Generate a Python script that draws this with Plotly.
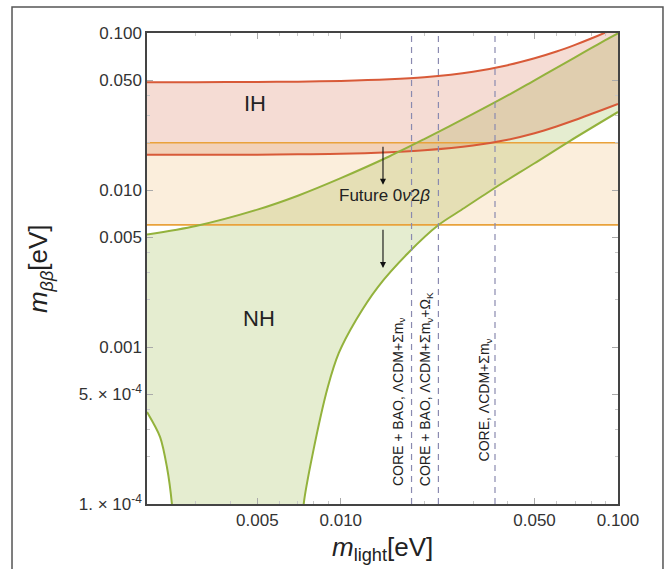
import math
import plotly.graph_objects as go

# ---------------- data ----------------
m_light = [0.002, 0.003, 0.005, 0.007, 0.01, 0.015, 0.02, 0.03, 0.04, 0.05,
           0.06, 0.07, 0.08, 0.09, 0.1]
ih_upper = [0.0486, 0.0486, 0.0488, 0.0490, 0.0495, 0.0507, 0.0523, 0.0567,
            0.0624, 0.069, 0.0762, 0.084, 0.0922, 0.1007, 0.1096]
ih_lower = [0.0168, 0.0168, 0.0168, 0.0169, 0.0170, 0.0174, 0.0179, 0.0192,
            0.0209, 0.0230, 0.0254, 0.0279, 0.0305, 0.0329, 0.0353]
nh_upper = [0.0052, 0.0059, 0.0075, 0.0092, 0.0119, 0.0164, 0.0211, 0.0305,
            0.040, 0.050, 0.060, 0.070, 0.080, 0.090, 0.0995]

nh_lower_right_m = [0.00722, 0.00735, 0.00793, 0.00898, 0.00984, 0.01135,
                    0.01361, 0.0175, 0.0225, 0.0272, 0.0359, 0.05, 0.067, 0.1]
nh_lower_right_v = [0.00005, 0.0001, 0.000211, 0.000556, 0.000916, 0.001486,
                    0.00241, 0.00397, 0.00598, 0.00746, 0.0103, 0.0148, 0.0205,
                    0.0314]
nh_lower_left_m = [0.002, 0.00223, 0.00236, 0.00246, 0.00252]
nh_lower_left_v = [0.000385, 0.000267, 0.000172, 0.0001, 0.00005]

future_band = [0.006, 0.02]          # future 0v2b sensitivity band
cosmo_limits = [0.018, 0.0225, 0.036]  # vertical dashed lines
cosmo_labels = ["CORE + BAO, ΛCDM+Σm<sub>ν</sub>",
                "CORE + BAO, ΛCDM+Σm<sub>ν</sub>+Ω<sub>K</sub>",
                "CORE, ΛCDM+Σm<sub>ν</sub>"]
cosmo_label_bottom = [0.000126, 0.000126, 0.000182]

x_range = [0.002, 0.1]
y_range = [0.0001, 0.1]
x_ticks = [0.005, 0.01, 0.05, 0.1]
x_ticktext = ["0.005", "0.010", "0.050", "0.100"]
x_minor = [0.003, 0.004, 0.006, 0.007, 0.008, 0.009, 0.02, 0.03, 0.04,
           0.06, 0.07, 0.08, 0.09]
y_ticks = [0.0001, 0.0005, 0.001, 0.005, 0.01, 0.05, 0.1]
y_ticktext = ["1. × 10<sup>-4</sup>", "5. × 10<sup>-4</sup>", "0.001", "0.005",
              "0.010", "0.050", "0.100"]
y_minor = [0.0002, 0.0003, 0.0004, 0.002, 0.003, 0.004, 0.02, 0.03, 0.04]

ih_label = (0.00492, 0.0358)
nh_label = (0.00505, 0.00153)
future_label = (0.01433, 0.00917)
arrow_x = 0.0142
arrows_y = [(0.0193, 0.0108), (0.0057, 0.00318)]

# ---------------- styles ----------------
RED = "#d85a38"
GREEN = "#93b23c"
ORANGE = "#e9a23b"
FONT = "Liberation Sans"

fig = go.Figure()

# NH band polygon (upper forward, lower back)
poly_x = m_light + nh_lower_right_m[::-1] + nh_lower_left_m[::-1]
poly_y = nh_upper + nh_lower_right_v[::-1] + nh_lower_left_v[::-1]
fig.add_trace(go.Scatter(x=poly_x, y=poly_y, fill="toself",
                         fillcolor="rgba(147,178,60,0.24)",
                         line=dict(width=0), mode="lines", hoverinfo="skip",
                         showlegend=False))

# IH band
fig.add_trace(go.Scatter(x=m_light, y=ih_lower, mode="lines",
                         line=dict(width=0, shape="spline"), showlegend=False))
fig.add_trace(go.Scatter(x=m_light, y=ih_upper, mode="lines", fill="tonexty",
                         fillcolor="rgba(210,95,60,0.22)",
                         line=dict(width=0, shape="spline"), showlegend=False))

# Future band
fig.add_trace(go.Scatter(x=x_range, y=[future_band[0]] * 2, mode="lines",
                         line=dict(width=0), showlegend=False))
fig.add_trace(go.Scatter(x=x_range, y=[future_band[1]] * 2, mode="lines",
                         fill="tonexty", fillcolor="rgba(233,162,59,0.18)",
                         line=dict(width=0), showlegend=False))

# lines
for yv in future_band:
    fig.add_trace(go.Scatter(x=x_range, y=[yv, yv], mode="lines",
                             line=dict(color=ORANGE, width=1.6),
                             showlegend=False))
for yy in (ih_upper, ih_lower):
    fig.add_trace(go.Scatter(x=m_light, y=yy, mode="lines",
                             line=dict(color=RED, width=2, shape="spline",
                                       smoothing=0.8), showlegend=False))
fig.add_trace(go.Scatter(x=m_light, y=nh_upper, mode="lines",
                         line=dict(color=GREEN, width=2, shape="spline",
                                   smoothing=0.8), showlegend=False))
fig.add_trace(go.Scatter(x=nh_lower_right_m, y=nh_lower_right_v, mode="lines",
                         line=dict(color=GREEN, width=2, shape="spline",
                                   smoothing=0.8), showlegend=False))
fig.add_trace(go.Scatter(x=nh_lower_left_m, y=nh_lower_left_v, mode="lines",
                         line=dict(color=GREEN, width=2, shape="spline",
                                   smoothing=0.8), showlegend=False))

for xv in cosmo_limits:
    fig.add_trace(go.Scatter(x=[xv, xv], y=y_range, mode="lines",
                             line=dict(color="#8a8ab0", width=1.2, dash="6px,5px"),
                             showlegend=False))

L = math.log10
ann = []
ann.append(dict(x=L(ih_label[0]), y=L(ih_label[1]), text="IH", showarrow=False,
                font=dict(size=22, color="#222", family=FONT)))
ann.append(dict(x=L(nh_label[0]), y=L(nh_label[1]), text="NH", showarrow=False,
                font=dict(size=22, color="#222", family=FONT)))
ann.append(dict(x=L(future_label[0]), y=L(future_label[1]),
                text="Future 0<i>ν</i>2<i>β</i>", showarrow=False,
                font=dict(size=17, color="#222", family=FONT)))
for (y0, y1) in arrows_y:
    ann.append(dict(x=L(arrow_x), y=L(y1), ax=L(arrow_x), ay=L(y0),
                    xref="x", yref="y", axref="x", ayref="y", text="",
                    showarrow=True, arrowhead=2, arrowsize=1.1, arrowwidth=1.1,
                    arrowcolor="#111"))
offs = [-0.046, -0.045, -0.037]
for xv, lab, yb, off in zip(cosmo_limits, cosmo_labels, cosmo_label_bottom, offs):
    ann.append(dict(x=L(xv) + off, y=L(yb), text=lab, textangle=-90,
                    showarrow=False, xanchor="center", yanchor="bottom",
                    font=dict(size=14, color="#222", family=FONT)))
# axis titles
ann.append(dict(xref="paper", yref="paper", x=0.5, y=-0.095, xanchor="center",
                yanchor="middle",
                text="<i>m</i><sub>light</sub>[eV]", showarrow=False,
                font=dict(size=26, color="#222", family=FONT)))
ann.append(dict(xref="paper", yref="paper", x=-0.228, y=0.5, textangle=-90,
                xanchor="center", yanchor="middle",
                text="<i>m</i><sub><i>ββ</i></sub>[eV]", showarrow=False,
                font=dict(size=26, color="#222", family=FONT)))

axis_common = dict(type="log", showgrid=False, zeroline=False, showline=True,
                   linecolor="#444", linewidth=1.5, mirror="allticks",
                   ticks="inside", ticklen=6, tickcolor="#aaa",
                   tickfont=dict(size=17, color="#333", family=FONT))

fig.update_layout(
    width=667, height=569,
    margin=dict(l=147, r=49, t=33, b=65),
    paper_bgcolor="white", plot_bgcolor="white",
    font=dict(family=FONT),
    xaxis=dict(range=[L(x_range[0]), L(x_range[1])], tickvals=x_ticks,
               ticktext=x_ticktext,
               minor=dict(tickvals=x_minor, ticks="inside", ticklen=3,
                          tickcolor="#c8c8c8"),
               **axis_common),
    yaxis=dict(range=[L(y_range[0]), L(y_range[1])], tickvals=y_ticks,
               ticktext=y_ticktext,
               minor=dict(tickvals=y_minor, ticks="inside", ticklen=3,
                          tickcolor="#c8c8c8"),
               **axis_common),
    annotations=ann,
    shapes=[dict(type="rect", xref="paper", yref="paper",
                 x0=-0.2866, x1=1.0955, y0=-0.16, y1=1.055,
                 line=dict(color="#555", width=1.5), layer="below")],
)

fig.write_html("out.html", config={"displayModeBar": False},
               post_script="document.body.style.margin='0px';")
